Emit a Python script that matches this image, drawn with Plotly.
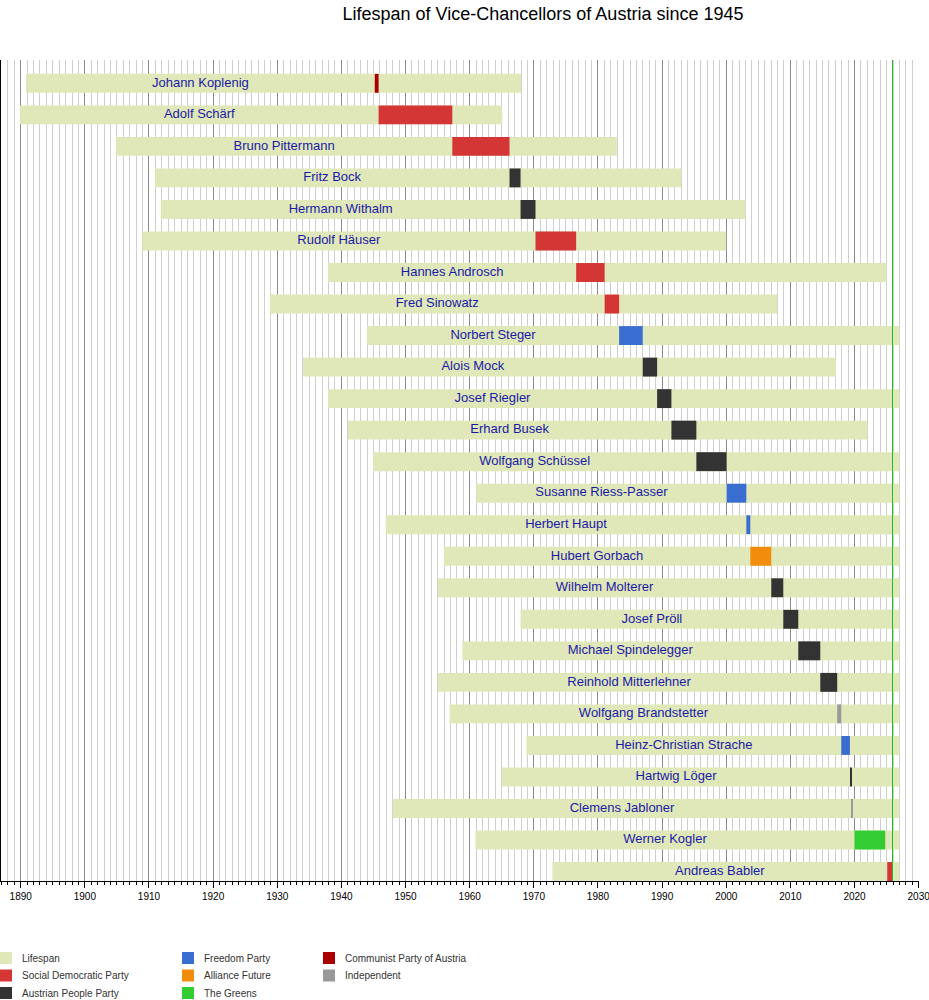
import plotly.graph_objects as go

# Vice-Chancellors, top to bottom
names = ["Johann Koplenig", "Adolf Schärf", "Bruno Pittermann", "Fritz Bock",
         "Hermann Withalm", "Rudolf Häuser", "Hannes Androsch", "Fred Sinowatz",
         "Norbert Steger", "Alois Mock", "Josef Riegler", "Erhard Busek",
         "Wolfgang Schüssel", "Susanne Riess-Passer", "Herbert Haupt",
         "Hubert Gorbach", "Wilhelm Molterer", "Josef Pröll",
         "Michael Spindelegger", "Reinhold Mitterlehner", "Wolfgang Brandstetter",
         "Heinz-Christian Strache", "Hartwig Löger", "Clemens Jabloner",
         "Werner Kogler", "Andreas Babler"]

born = [1890.83, 1889.9, 1904.84, 1910.92, 1911.85, 1908.94, 1937.91, 1928.83,
        1943.99, 1934.02, 1937.9, 1941.03, 1944.92, 1961.03, 1946.9, 1955.98,
        1955.05, 1967.93, 1958.85, 1955.05, 1956.87, 1968.86, 1964.97, 1948.0,
        1960.9, 1972.9]

# None = still alive
died = [1968.04, 1965.08, 1982.93, 1993.0, 2002.99, 2000.0, 2024.99, 2007.96,
        None, 2017.1, None, 2022.0, None, None, None, None,
        None, None, None, None, None, None, None, None,
        None, None]

NOW = 2025.92
LIVING_END = 2027.0

office_start = [1945.2, 1945.8, 1957.29, 1966.21, 1967.93, 1970.26, 1976.6, 1981.04,
                1983.3, 1986.98, 1989.22, 1991.45, 1995.34, 2000.06, 2003.13, 2003.75,
                2007.02, 2008.89, 2011.23, 2014.66, 2017.3, 2017.93, 2019.36, 2019.5,
                2019.99, 2025.1]
office_end = [1945.8, 1957.29, 1966.21, 1967.93, 1970.26, 1976.6, 1981.04, 1983.3,
              1986.98, 1989.22, 1991.45, 1995.34, 2000.06, 2003.13, 2003.75, 2007.02,
              2008.89, 2011.23, 2014.66, 2017.3, 2017.93, 2019.28, 2019.48, 2019.75,
              2024.78, NOW]

party = ["Communist Party of Austria", "Social Democratic Party", "Social Democratic Party",
         "Austrian People Party", "Austrian People Party", "Social Democratic Party",
         "Social Democratic Party", "Social Democratic Party", "Freedom Party",
         "Austrian People Party", "Austrian People Party", "Austrian People Party",
         "Austrian People Party", "Freedom Party", "Freedom Party", "Alliance Future",
         "Austrian People Party", "Austrian People Party", "Austrian People Party",
         "Austrian People Party", "Independent", "Freedom Party", "Austrian People Party",
         "Independent", "The Greens", "Social Democratic Party"]

LIFE_COLOR = "#e0e8b9"
party_colors = {
    "Lifespan": LIFE_COLOR,
    "Social Democratic Party": "#d43535",
    "Austrian People Party": "#333333",
    "Freedom Party": "#3a6dd0",
    "Alliance Future": "#f28c0c",
    "The Greens": "#33cc33",
    "Communist Party of Austria": "#aa0000",
    "Independent": "#999999",
}

# legend columns as in the original
legend_cols = [["Lifespan", "Social Democratic Party", "Austrian People Party"],
               ["Freedom Party", "Alliance Future", "The Greens"],
               ["Communist Party of Austria", "Independent"]]

FONT = "Liberation Sans, Arial, sans-serif"
W, H = 929, 1000
ML, MR, MT, MB = 1, 10, 60, 119
PW, PH = W - ML - MR, H - MT - MB


def px_x(px):
    return (px - ML) / PW


def px_y(py):
    return (H - MB - py) / PH


rows = list(range(len(names)))
life_end = [d if d is not None else LIVING_END for d in died]

fig = go.Figure()

fig.add_trace(go.Bar(
    y=rows, base=born, x=[e - b for b, e in zip(born, life_end)],
    orientation="h", width=0.6, marker=dict(color=LIFE_COLOR, line_width=0),
    name="Lifespan", showlegend=False, hoverinfo="skip"))

for p in party_colors:
    idx = [i for i in rows if party[i] == p]
    if not idx:
        continue
    fig.add_trace(go.Bar(
        y=idx, base=[office_start[i] for i in idx],
        x=[office_end[i] - office_start[i] for i in idx],
        orientation="h", width=0.6,
        marker=dict(color=party_colors[p], line_width=0),
        name=p, showlegend=False, hoverinfo="skip"))

# name labels sit in the middle of the life before office
fig.add_trace(go.Scatter(
    x=[(b + s) / 2 for b, s in zip(born, office_start)], y=rows,
    mode="text", text=names, showlegend=False, hoverinfo="skip",
    textfont=dict(family=FONT, size=13, color="#1a1aa6"),
    cliponaxis=False))

fig.add_vline(x=NOW, line_color="#1fbf1f", line_width=1, layer="above")

# legend drawn by hand so it can sit in three columns under the axis
col_left = [0, 182, 323]
row_mid = [958, 975.5, 993]
for c, col in enumerate(legend_cols):
    for r, label in enumerate(col):
        x0, yc = col_left[c], row_mid[r]
        fig.add_shape(type="rect", xref="paper", yref="paper",
                      x0=px_x(x0), x1=px_x(x0 + 12),
                      y0=px_y(yc - 6), y1=px_y(yc + 6),
                      fillcolor=party_colors[label], line_width=0)
        fig.add_annotation(text=label, xref="paper", yref="paper",
                           x=px_x(x0 + 20), y=px_y(yc), xanchor="left", yanchor="middle",
                           showarrow=False, font=dict(family=FONT, size=10, color="#333333"))

fig.update_layout(
    width=W, height=H,
    margin=dict(l=ML, r=MR, t=MT, b=MB, autoexpand=False),
    paper_bgcolor="white", plot_bgcolor="white",
    barmode="overlay", showlegend=False,
    font=dict(family=FONT, color="black"),
    title=dict(text="Lifespan of Vice-Chancellors of Austria since 1945",
               x=px_x(543), xanchor="center", xref="paper",
               y=0.986, yanchor="middle", yref="container",
               font=dict(size=18, color="black")),
    xaxis=dict(range=[1886.93, 2030.05], dtick=10, tick0=1890,
               showgrid=True, gridcolor="#8a8a8a", gridwidth=1,
               ticks="outside", ticklen=6, tickcolor="black",
               showline=True, linecolor="black", linewidth=1,
               tickfont=dict(size=10, color="black"),
               ticklabeloverflow="allow", automargin=False,
               zeroline=False,
               minor=dict(dtick=1, showgrid=True, gridcolor="#cfcfcf",
                          ticks="outside", ticklen=3, tickcolor="black")),
    yaxis=dict(range=[25.3, -0.74], showgrid=False, showticklabels=False,
               ticks="", showline=True, linecolor="black", linewidth=1,
               zeroline=False),
)

fig.write_html("out.html", config={"displayModeBar": False},
               post_script="document.body.style.margin='0';")
